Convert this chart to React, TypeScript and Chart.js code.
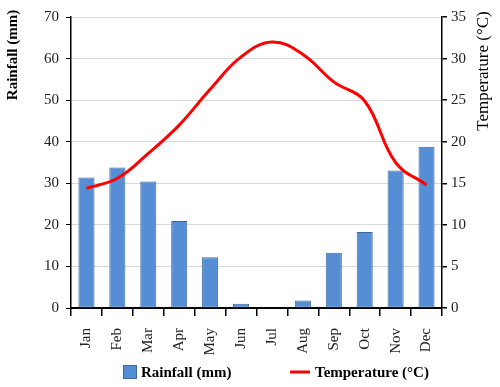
import React, { useEffect, useRef } from "react";
import { Chart, registerables } from "chart.js";

Chart.register(...registerables);

const months = ["Jan", "Feb", "Mar", "Apr", "May", "Jun", "Jul", "Aug", "Sep", "Oct", "Nov", "Dec"];
const rainfall = [31.4, 33.8, 30.4, 20.9, 12.2, 1.0, 0.2, 1.8, 13.3, 18.3, 33.1, 38.8];
const temperature = [14.4, 15.6, 18.6, 22.0, 26.3, 30.2, 32.0, 30.5, 27.2, 24.9, 17.5, 14.8];
const rainTicks = { min: 0, max: 70, step: 10 };
const tempTicks = { min: 0, max: 35, step: 5 };
const rainLabel = "Rainfall (mm)";
const tempLabel = "Temperature (°C)";

const SERIF = '"Liberation Serif", "Times New Roman", serif';
const BAR_FILL = "#558ED5";
const BAR_BORDER = "#3F6A9E";
const LINE_COLOR = "#FF0000";

const customText = {
  id: "customText",
  afterDraw(chart: any) {
    const ctx = chart.ctx as CanvasRenderingContext2D;
    ctx.save();
    ctx.fillStyle = "#000";
    ctx.textBaseline = "middle";
    // left axis title
    ctx.save();
    ctx.font = "bold 15px " + SERIF;
    ctx.translate(13, 55);
    ctx.rotate(-Math.PI / 2);
    ctx.textAlign = "center";
    ctx.fillText(rainLabel, 0, 0);
    ctx.restore();
    // right axis title
    ctx.save();
    ctx.font = "17px " + SERIF;
    ctx.translate(484, 71);
    ctx.rotate(-Math.PI / 2);
    ctx.textAlign = "center";
    ctx.fillText(tempLabel, 0, 0);
    ctx.restore();
    // legend
    const ly = 372;
    ctx.font = "bold 15px " + SERIF;
    ctx.textAlign = "left";
    ctx.fillStyle = BAR_FILL;
    ctx.fillRect(123, ly - 7, 14, 14);
    ctx.strokeStyle = BAR_BORDER;
    ctx.lineWidth = 1;
    ctx.strokeRect(123.5, ly - 6.5, 13, 13);
    ctx.fillStyle = "#000";
    ctx.fillText(chart.data.datasets[0].label, 141, ly + 1);
    ctx.strokeStyle = LINE_COLOR;
    ctx.lineWidth = 3;
    ctx.beginPath();
    ctx.moveTo(290, ly);
    ctx.lineTo(310, ly);
    ctx.stroke();
    ctx.fillText(chart.data.datasets[1].label, 315, ly + 1);
    ctx.restore();
  },
};

export default function App() {
  const ref = useRef<HTMLCanvasElement | null>(null);
  useEffect(() => {
    if (!ref.current) return;
    const chart = new Chart(ref.current, {
      type: "bar",
      data: {
        labels: months,
        datasets: [
          {
            type: "bar",
            label: rainLabel,
            data: rainfall,
            backgroundColor: BAR_FILL,
            borderColor: BAR_BORDER,
            borderWidth: 1,
            borderSkipped: false,
            categoryPercentage: 1,
            barPercentage: 0.52,
            yAxisID: "y",
            order: 2,
          } as any,
          {
            type: "line",
            label: tempLabel,
            data: temperature,
            borderColor: LINE_COLOR,
            backgroundColor: LINE_COLOR,
            borderWidth: 3,
            pointRadius: 0,
            tension: 0.4,
            yAxisID: "y1",
            order: 1,
          } as any,
        ],
      },
      options: {
        responsive: false,
        animation: false,
        devicePixelRatio: 1,
        layout: { padding: { top: 17, left: 0, right: 0, bottom: 0 } },
        plugins: { legend: { display: false }, tooltip: { enabled: false } },
        scales: {
          x: {
            offset: true,
            grid: {
              offset: true,
              drawOnChartArea: false,
              drawTicks: true,
              tickLength: 8,
              tickColor: "#000",
              lineWidth: 1.5,
            },
            border: { color: "#000", width: 2 },
            ticks: {
              minRotation: 90,
              maxRotation: 90,
              padding: 12,
              color: "#222",
              font: { family: SERIF, size: 15 },
            },
            afterFit(scale: any) {
              scale.height = 79;
            },
          },
          y: {
            position: "left",
            min: rainTicks.min,
            max: rainTicks.max,
            ticks: {
              stepSize: rainTicks.step,
              padding: 7,
              color: "#222",
              font: { family: SERIF, size: 15 },
            },
            grid: { color: "#D9D9D9", lineWidth: 1, tickColor: "#000", tickLength: 5 },
            border: { color: "#000", width: 1.5 },
            afterFit(scale: any) {
              scale.width = 71;
            },
          },
          y1: {
            position: "right",
            min: tempTicks.min,
            max: tempTicks.max,
            ticks: {
              stepSize: tempTicks.step,
              padding: 4,
              color: "#222",
              font: { family: SERIF, size: 15 },
            },
            grid: { drawOnChartArea: false, tickColor: "#000", tickLength: 5, lineWidth: 1.5 },
            border: { color: "#000", width: 1.5 },
            afterFit(scale: any) {
              scale.width = 58;
            },
          },
        },
      },
      plugins: [customText],
    });
    return () => chart.destroy();
  }, []);
  return (
    <canvas
      ref={ref}
      width={500}
      height={387}
      style={{ position: "fixed", left: 0, top: 0, width: 500, height: 387 }}
    />
  );
}
